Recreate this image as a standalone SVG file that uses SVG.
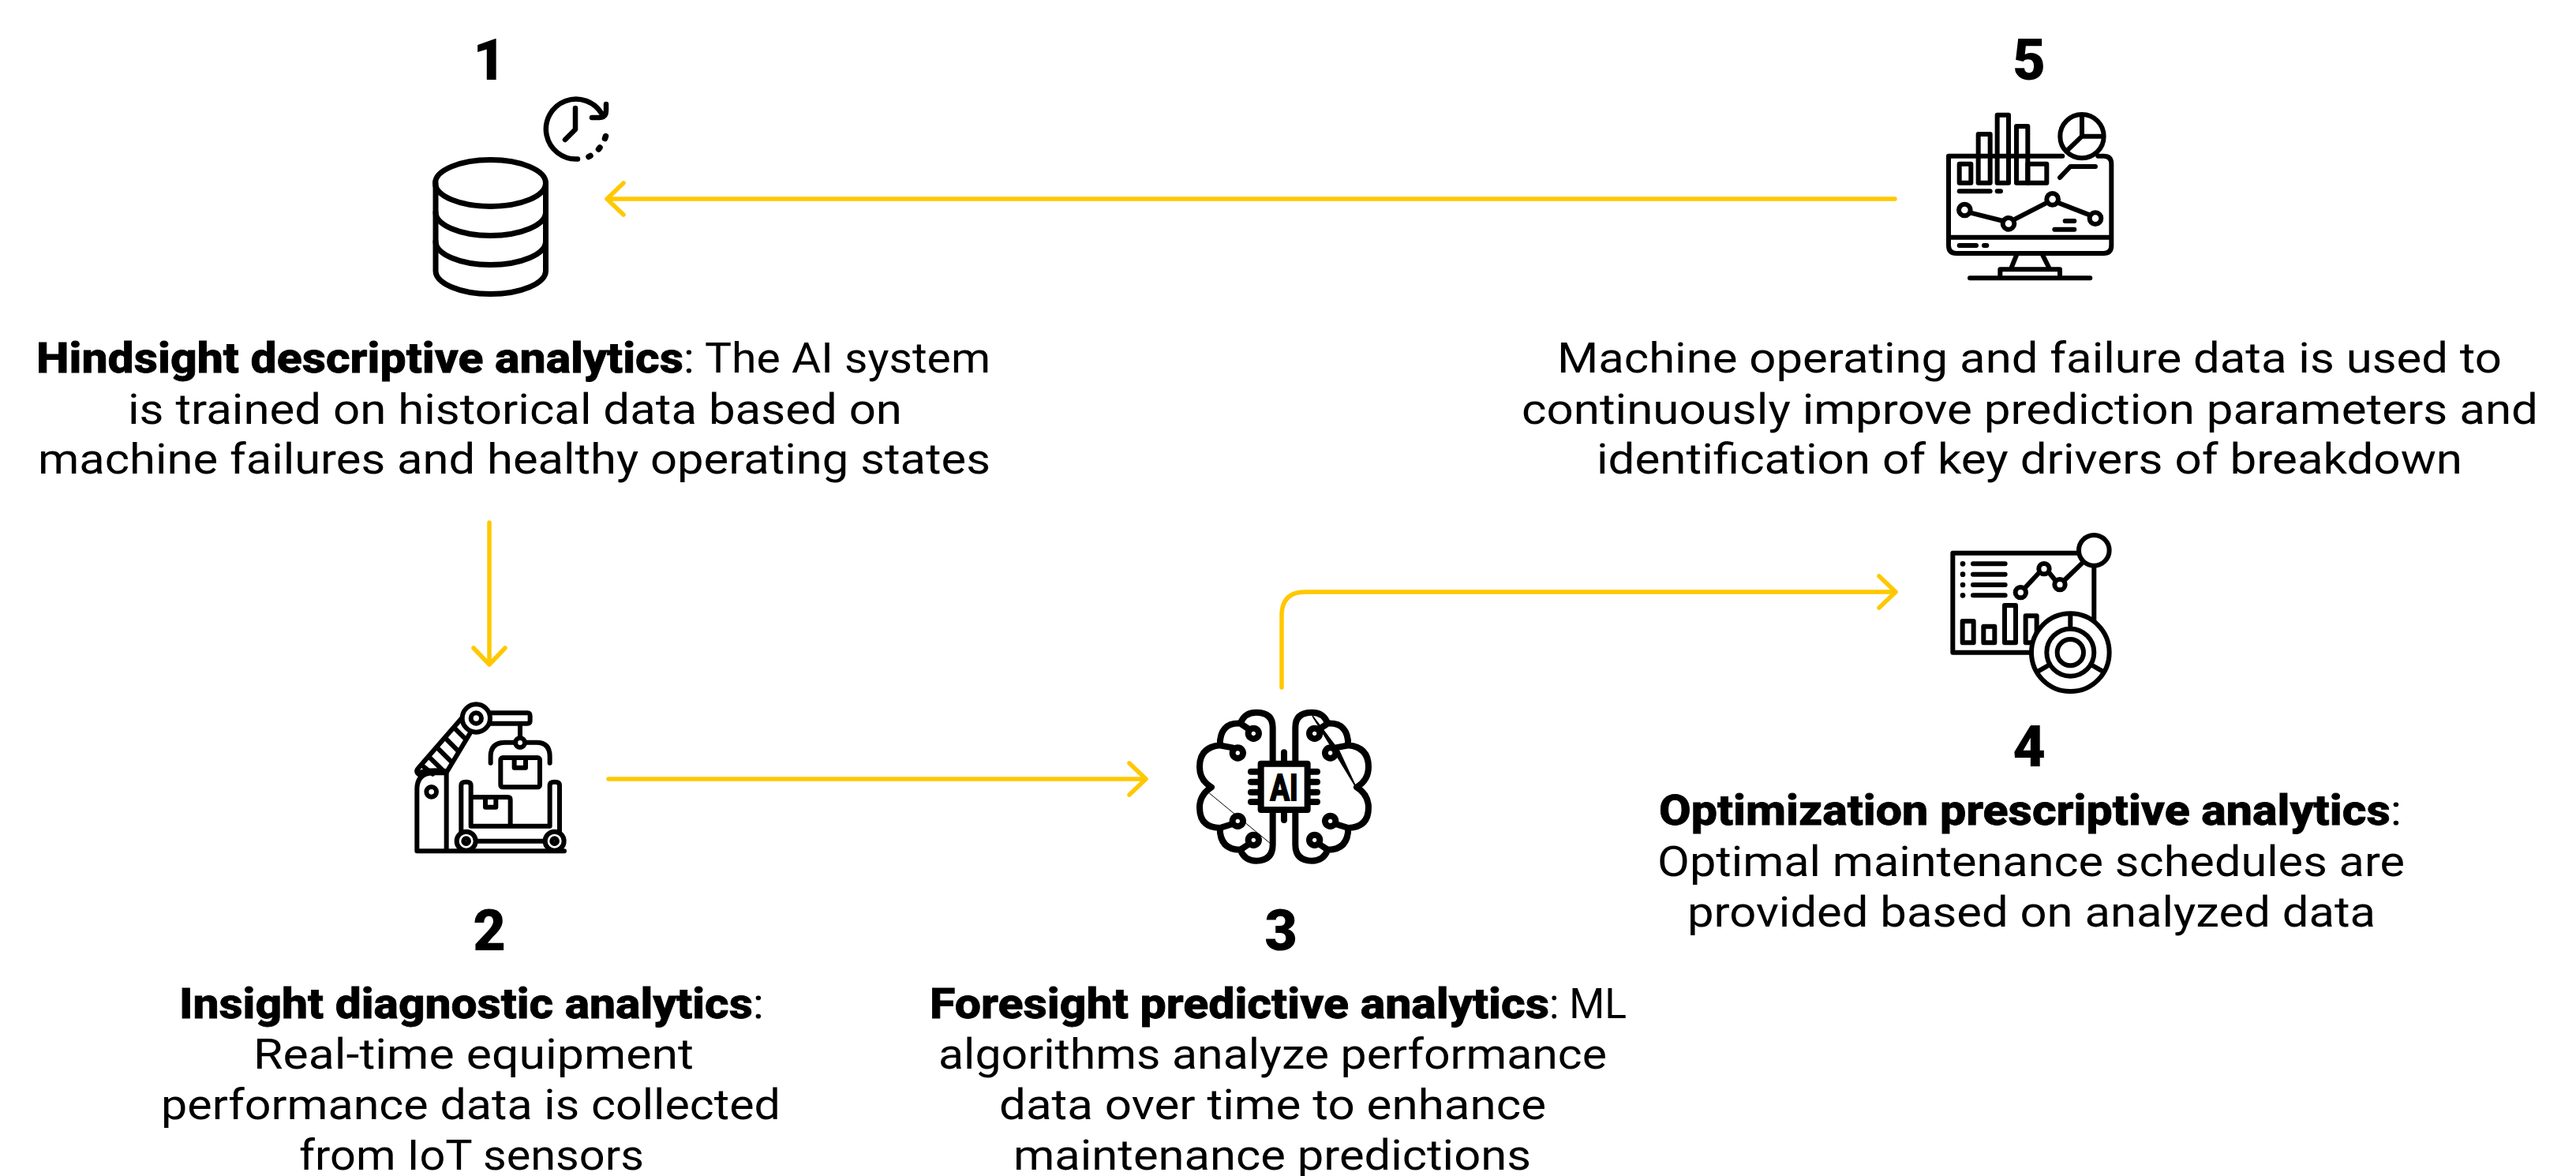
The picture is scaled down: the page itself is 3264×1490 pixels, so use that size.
<svg xmlns="http://www.w3.org/2000/svg" xmlns:xlink="http://www.w3.org/1999/xlink" width="3264" height="1490" viewBox="0 0 3264 1490">
<style>
text{font-family:Roboto,"Noto Sans","Liberation Sans",sans-serif;fill:#000}
.t{font-size:54.500px}
.b{font-weight:800;stroke:#000;stroke-width:.8px}
.n{font-size:72px;font-weight:900;text-anchor:middle}
.c{fill:none;stroke:#ffc800;stroke-width:5.500;stroke-linecap:round;stroke-linejoin:round}
.i{fill:none;stroke:#000;stroke-linecap:round;stroke-linejoin:round}
.s18{stroke-width:18}
.s24{stroke-width:24}
.w{fill:#fff}
.d{fill:#000;stroke:none}
</style>
<defs>
<g id="half">
<path d="M398 320V185Q398 128 335 128Q290 128 275 170L305 190M275 170Q197 165 197 253L245 262M197 253Q120 260 120 335Q120 385 165 412Q120 440 120 490Q120 565 197 567L245 552M197 567Q197 650 275 650L305 630M275 650Q290 692 335 692Q398 692 398 630V500"/>
<circle cx="325" cy="208" r="20"/><circle cx="265" cy="282" r="20"/><circle cx="265" cy="541" r="20"/><circle cx="325" cy="613" r="20"/>
<path d="M315 353H350M315 392H350M315 431H350M315 468H350"/>
</g>
</defs>
<g id="connectors">
<path class="c" d="M2401 252H770M790 232L769 252L790 272"/>
<path class="c" d="M620 662V841M600 821L620 842L640 821"/>
<path class="c" d="M771 987H1451M1431 967L1452 987L1431 1007"/>
<path class="c" d="M1624 871V780Q1624 750 1654 750H2401M2381 730L2402 750L2381 770"/>
</g>
<g id="node1">
<text class="n" x="620" y="101">1</text>
<g class="i" stroke-width="7">
<path d="M552 232V343C552 359 583 372.500 621.500 372.500S691.500 359 691.500 343V232"/>
<ellipse cx="621.500" cy="232" rx="70" ry="29.500"/>
<path d="M552 269C552 285 583 298.500 621.500 298.500S691.500 285 691.500 269M552 306C552 322 583 335.500 621.500 335.500S691.500 322 691.500 306"/>
</g>
<g class="i" stroke-width="6.500">
<path d="M732 201.500A38 38 0 1 1 763 145M768 132V140Q768 149 759 149H750M729 137V164L716 177"/>
<path d="M746 198.500L748 197.500M758.500 189L760 187M766.500 175.500L767.500 172.500" stroke-width="7.500"/>
</g>
</g>
<g id="node2">
<g class="i s18" transform="translate(480 850) scale(.3333)">
<path d="M145 685V450Q145 390 205 388H257V685M145 685H705"/>
<circle cx="200" cy="460" r="19"/>
<path d="M160 398Q135 385 150 370L315 180M258 385L345 240M165 360L205 392M192 328L245 380M222 292L275 345M252 255L302 305M285 215L325 255M150 388Q180 375 250 380"/>
<circle cx="370" cy="180" r="53"/><circle cx="370" cy="180" r="20"/>
<path d="M425 160H565Q575 160 575 172V190Q575 200 565 200H425M537 200V255"/>
<circle cx="537" cy="273" r="18"/>
<path d="M425 350V325Q425 272 480 272H520M555 272H600Q650 272 650 325V350"/>
<rect x="463" y="330" width="149" height="112" rx="8"/>
<path d="M515 330V368H558V330M313 610V435Q313 422 332 422Q350 422 350 435V590M650 590V435Q650 422 669 422Q687 422 687 435V610M350 480H490Q500 480 500 490V590M405 480V518H445V480M350 590H650M370 647H630"/>
<circle cx="332" cy="647" r="36" class="w"/><circle cx="332" cy="647" r="10"/>
<circle cx="668" cy="647" r="36" class="w"/><circle cx="668" cy="647" r="10"/>
</g>
<text class="n" x="620" y="1204">2</text>
</g>
<g id="node3">
<g class="i s24" transform="translate(1480 860) scale(.3333)">
<use xlink:href="#half" href="#half"/>
<use xlink:href="#half" href="#half" transform="translate(882 0) scale(-1 1)"/>
<rect x="353" y="323" width="177" height="175" class="w"/>
<path d="M441 280V315M441 506V537"/>
</g>
<text x="1627" y="1014" font-size="46" font-weight="700" textLength="35" lengthAdjust="spacingAndGlyphs" text-anchor="middle" stroke="#000" stroke-width="2">AI</text>
<path d="M1530 1003L1610 1069" stroke="#000" stroke-width="1" fill="none"/>
<path d="M1663 907L1718 997L1697 952Z" stroke="#000" stroke-width="1.500"/>
<text class="n" x="1623" y="1204">3</text>
</g>
<g id="node4">
<g class="i s18" transform="translate(2420 660) scale(.3333)">
<path d="M640 122H163V500H460M700 175V380"/>
<circle cx="700" cy="112" r="58"/>
<path d="M240 163H362M240 203H362M240 243H362M240 283H362"/>
<circle cx="201" cy="163" r="10" class="d"/><circle cx="201" cy="203" r="10" class="d"/><circle cx="201" cy="243" r="10" class="d"/><circle cx="201" cy="283" r="10" class="d"/>
<path d="M436 256L490 198M530 198L552 225M588 225L655 160"/>
<circle cx="421" cy="272" r="20"/><circle cx="510" cy="182" r="20"/><circle cx="570" cy="242" r="20"/>
<rect x="200" y="381" width="42" height="82"/><rect x="280" y="401" width="42" height="62"/><rect x="360" y="321" width="42" height="142"/><rect x="440" y="361" width="42" height="102"/>
<circle cx="610" cy="500" r="148" class="w"/><circle cx="610" cy="500" r="90"/><circle cx="610" cy="500" r="50"/>
<path d="M610 358V405M487 572L532 546M733 572L688 546"/>
</g>
<text class="n" x="2571" y="971">4</text>
</g>
<g id="node5">
<text class="n" x="2571" y="101">5</text>
<g class="i s18" transform="translate(2440 130) scale(.3333)">
<path d="M520 203H87V543Q87 573 117 573H676Q706 573 706 543V233Q706 203 676 203H655M87 512H706"/>
<rect x="128" y="233" width="44" height="72"/><rect x="200" y="120" width="45" height="185"/><rect x="272" y="47" width="43" height="258"/><rect x="345" y="90" width="43" height="215"/><rect x="388" y="233" width="72" height="72"/>
<circle cx="594" cy="128" r="83"/>
<path d="M594 50V128H665M594 128L535 185M510 285L550 243H645M128 337H245M272 337H285"/>
<path d="M168 418L295 450M335 445L462 380M502 380L625 428"/>
<circle cx="148" cy="408" r="22"/><circle cx="315" cy="460" r="22"/><circle cx="482" cy="367" r="22"/><circle cx="645" cy="440" r="22"/>
<path d="M530 450H565M490 482H565M128 543H192M222 543H232M345 580L325 630M445 580L470 630M283 660V634H510V660M168 667H625"/>
</g>
</g>
<g id="labels">
<text class="t" y="472"><tspan class="b" x="46" textLength="820" lengthAdjust="spacingAndGlyphs">Hindsight descriptive analytics</tspan><tspan x="866" textLength="389" lengthAdjust="spacingAndGlyphs">: The AI system</tspan></text>
<text class="t" x="162" y="537" textLength="981" lengthAdjust="spacingAndGlyphs">is trained on historical data based on</text>
<text class="t" x="48" y="600" textLength="1207" lengthAdjust="spacingAndGlyphs">machine failures and healthy operating states</text>
<text class="t" x="1973" y="472" textLength="1197" lengthAdjust="spacingAndGlyphs">Machine operating and failure data is used to</text>
<text class="t" x="1928" y="537" textLength="1288" lengthAdjust="spacingAndGlyphs">continuously improve prediction parameters and</text>
<text class="t" x="2023" y="600" textLength="1097" lengthAdjust="spacingAndGlyphs">identification of key drivers of breakdown</text>
<text class="t" x="2102" y="1045" textLength="941" lengthAdjust="spacingAndGlyphs"><tspan class="b">Optimization prescriptive analytics</tspan>:</text>
<text class="t" x="2100" y="1110" textLength="947" lengthAdjust="spacingAndGlyphs">Optimal maintenance schedules are</text>
<text class="t" x="2138" y="1174" textLength="872" lengthAdjust="spacingAndGlyphs">provided based on analyzed data</text>
<text class="t" y="1290"><tspan class="b" x="1178" textLength="785" lengthAdjust="spacingAndGlyphs">Foresight predictive analytics</tspan><tspan x="1963" textLength="98" lengthAdjust="spacingAndGlyphs">: ML</tspan></text>
<text class="t" x="1189" y="1354" textLength="847" lengthAdjust="spacingAndGlyphs">algorithms analyze performance</text>
<text class="t" x="1266" y="1418" textLength="693" lengthAdjust="spacingAndGlyphs">data over time to enhance</text>
<text class="t" x="1284" y="1482" textLength="656" lengthAdjust="spacingAndGlyphs">maintenance predictions</text>
<text class="t" x="227" y="1290" textLength="741" lengthAdjust="spacingAndGlyphs"><tspan class="b">Insight diagnostic analytics</tspan>:</text>
<text class="t" x="321" y="1354" textLength="558" lengthAdjust="spacingAndGlyphs">Real-time equipment</text>
<text class="t" x="204" y="1418" textLength="785" lengthAdjust="spacingAndGlyphs">performance data is collected</text>
<text class="t" x="379" y="1482" textLength="437" lengthAdjust="spacingAndGlyphs">from IoT sensors</text>
</g>
</svg>
